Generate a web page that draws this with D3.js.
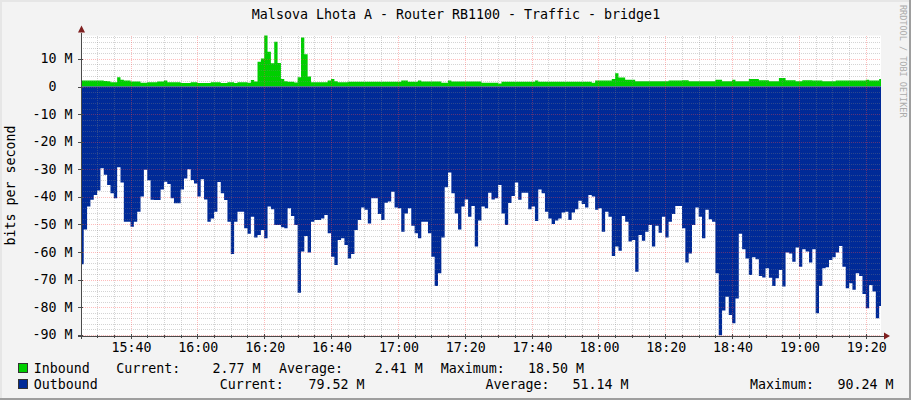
<!DOCTYPE html>
<html>
<head>
<meta charset="utf-8">
<script src="https://cdn.jsdelivr.net/npm/d3@7"></script>
<style>
  body { margin: 0; background: #fff; }
  svg { display: block; font-family: "DejaVu Sans Mono", monospace; }
</style>
</head>
<body>
<svg id="chart" width="911" height="400"></svg>
<script>
// data, 1 minute steps, values in Mbit/s
const title = "Malsova Lhota A - Router RB1100 - Traffic - bridge1";
const seriesStart = new Date(2020, 0, 1, 15, 25, 0);
const stepSeconds = 60;
const viewStart = new Date(2020, 0, 1, 15, 25, 11);
const viewEnd = new Date(2020, 0, 1, 19, 24, 33);

const inbound = [
  2.2, 2.2, 2.2, 2.2, 2.2, 2.2, 2.2, 2.0, 1.9, 1.6,
  1.6, 3.4, 2.5, 2.2, 2.2, 1.8, 1.8, 1.8, 1.4, 1.4,
  1.6, 1.6, 1.6, 1.8, 1.8, 2.2, 1.6, 1.6, 1.6, 1.6,
  1.3, 1.3, 1.3, 1.6, 1.6, 1.3, 1.3, 1.3, 1.3, 1.6,
  1.6, 1.6, 1.3, 1.3, 1.6, 1.6, 1.3, 1.6, 1.6, 1.6,
  1.4, 2.4, 1.8, 9.0, 10.2, 18.5, 12.6, 8.4, 16.2, 8.5,
  2.7, 1.9, 1.7, 1.7, 1.5, 3.4, 17.8, 11.7, 3.6, 1.6,
  1.6, 1.6, 1.6, 1.6, 2.2, 2.7, 1.9, 1.6, 1.6, 1.6,
  1.7, 1.7, 1.7, 1.7, 1.7, 1.7, 1.7, 1.7, 1.7, 1.7,
  1.7, 1.7, 1.7, 1.7, 1.7, 1.7, 2.2, 2.2, 1.7, 1.7,
  1.7, 2.2, 1.8, 1.8, 1.8, 1.8, 1.8, 1.8, 1.4, 1.4,
  2.2, 1.8, 1.8, 1.8, 1.8, 1.8, 1.8, 1.8, 1.8, 1.8,
  1.4, 1.4, 1.4, 1.4, 1.4, 1.1, 1.7, 1.7, 1.7, 1.7,
  1.7, 1.7, 1.7, 1.7, 1.7, 1.7, 2.2, 1.7, 1.7, 1.7,
  1.7, 1.7, 1.7, 1.7, 1.7, 1.7, 1.7, 1.7, 1.7, 1.7,
  1.7, 1.7, 1.7, 1.4, 2.2, 2.2, 2.2, 2.2, 2.2, 2.7,
  4.8, 3.3, 3.3, 2.5, 2.5, 2.5, 1.9, 1.9, 1.9, 1.9,
  1.9, 1.9, 1.9, 1.9, 1.9, 1.9, 2.2, 2.2, 2.2, 2.2,
  2.3, 2.3, 1.9, 1.9, 1.9, 1.9, 1.9, 1.9, 1.9, 1.9,
  2.5, 2.5, 1.9, 1.9, 1.9, 2.5, 1.9, 1.9, 1.9, 1.9,
  2.7, 2.7, 2.7, 2.3, 2.3, 2.3, 1.9, 1.9, 1.9, 3.1,
  3.1, 2.3, 2.3, 2.3, 1.9, 1.9, 2.3, 2.3, 2.3, 2.2,
  2.2, 2.2, 1.9, 1.9, 1.9, 1.9, 2.2, 2.2, 2.2, 2.2,
  2.2, 2.2, 2.2, 2.2, 2.2, 2.5, 2.2, 2.2, 2.2, 2.77
];

const outbound = [
  64.4, 51.8, 43.5, 41, 39.3, 37.7, 29.6, 32, 35.7, 38.7,
  40.5, 29.3, 34.8, 49, 49, 50.8, 49, 45.4, 39.9, 30.2,
  34, 41, 41.1, 41.1, 37.3, 34.5, 35.3, 40.5, 42.3, 42.3,
  37.3, 33.3, 30, 33.9, 35.1, 39.9, 33.6, 40.9, 49, 47.8,
  45.4, 34.6, 38.7, 41.1, 49, 60.7, 49, 45.4, 45.4, 51.4,
  53.4, 47.2, 54.7, 53.8, 52, 55, 43.5, 44.5, 50.2, 50.2,
  51, 51.4, 44.1, 46.9, 50.2, 74.7, 59.8, 54.2, 60.2, 49,
  48.4, 48.4, 47.8, 46.6, 53.2, 61.7, 64.7, 55.6, 55, 57.4,
  62.3, 60.7, 52, 48.4, 43.8, 44.7, 49.6, 40.5, 40.5, 46.2,
  48.4, 42.1, 41.7, 38.1, 43.8, 44.1, 52.6, 46, 44.1, 50.5,
  53.2, 55, 49, 49, 53.2, 61.7, 72.3, 67.7, 54.7, 36.5,
  31.2, 38.7, 46, 51.8, 43.5, 40.9, 47.2, 43.3, 58, 48.6,
  43.5, 44.1, 38.5, 40.9, 40.5, 35.7, 46, 50.2, 42.2, 39.7,
  34.8, 41, 38.5, 38.5, 44.5, 43.5, 48.7, 37.3, 38.7, 45.4,
  47.8, 49.8, 48.6, 47.8, 45.7, 45.4, 48.4, 45.7, 44.5, 41.4,
  42.6, 43.8, 39.3, 39.9, 44.7, 44.1, 52.6, 45.4, 47.2, 61.4,
  58, 59.5, 46.9, 49, 56.2, 55.6, 67.1, 53.8, 55.9, 52.6,
  50.2, 58, 50.5, 53, 47.2, 54.7, 49, 46.2, 43.3, 43.3,
  51.4, 63.8, 60.5, 50.2, 43.8, 47.2, 55, 44.7, 48.1, 49,
  67.7, 90.24, 81.2, 76.2, 82.8, 85.8, 76.8, 53.4, 59, 62.3,
  68.3, 61.9, 62.6, 68.7, 69.2, 65.9, 69.3, 72.3, 69.5, 66.5,
  72.5, 60.2, 60.5, 63.5, 58.3, 65.3, 59, 59.8, 63.8, 59,
  82.2, 72.3, 65.9, 65.5, 62.9, 61.9, 60.2, 57.8, 65.3, 73.1,
  71.3, 73.7, 67.7, 68.7, 75.2, 80.4, 71.9, 74.3, 84, 79.52
];

const yMajorTicks = [10, 0, -10, -20, -30, -40, -50, -60, -70, -80, -90];
const yMin = -90.24, yMax = 18.5;

const legendNames = ["Inbound", "Outbound"];
const legendColors = ["#00CF00", "#002A97"];
const currentText = ["2.77 M", "79.52 M"];
const averageText = ["2.41 M", "51.14 M"];
const maximumText = ["18.50 M", "90.24 M"];

const W = 911, H = 400;
const plot = { left: 81, right: 881, top: 35.5, bottom: 335.5 };

const svg = d3.select("#chart");

// background + rrdtool style frame
svg.append("rect").attr("width", W).attr("height", H).attr("fill", "#F3F3F3");
svg.append("rect").attr("x", 0).attr("y", 0).attr("width", W).attr("height", 2).attr("fill", "#E6E6E6");
svg.append("rect").attr("x", 0).attr("y", 0).attr("width", 2).attr("height", H).attr("fill", "#E6E6E6");
svg.append("rect").attr("x", W - 2).attr("y", 0).attr("width", 2).attr("height", H).attr("fill", "#9E9E9E");
svg.append("rect").attr("x", 0).attr("y", H - 2).attr("width", W).attr("height", 2).attr("fill", "#9E9E9E");

const x = d3.scaleTime().domain([viewStart, viewEnd]).range([plot.left, plot.right]);
const y = d3.scaleLinear().domain([yMin, yMax]).range([plot.bottom, plot.top]);

svg.append("rect")
  .attr("x", plot.left).attr("y", plot.top)
  .attr("width", plot.right - plot.left).attr("height", plot.bottom - plot.top)
  .attr("fill", "#FFFFFF");

svg.append("defs").append("clipPath").attr("id", "clip")
  .append("rect")
  .attr("x", plot.left).attr("y", plot.top - 1)
  .attr("width", plot.right - plot.left).attr("height", plot.bottom - plot.top + 1);

function toPoints(values, sign) {
  const pts = values.map((v, i) => ({ t: new Date(+seriesStart + i * stepSeconds * 1000), v: sign * v }));
  pts.push({ t: new Date(+seriesStart + values.length * stepSeconds * 1000), v: sign * values[values.length - 1] });
  return pts;
}

const area = d3.area()
  .curve(d3.curveStepAfter)
  .x(d => x(d.t))
  .y0(y(0))
  .y1(d => y(d.v));

const g = svg.append("g").attr("clip-path", "url(#clip)");
g.append("path").datum(toPoints(inbound, 1)).attr("d", area).attr("fill", legendColors[0]);
g.append("path").datum(toPoints(outbound, -1)).attr("d", area).attr("fill", legendColors[1]);

// grid on top of the data, like rrdtool
const grid = svg.append("g").attr("shape-rendering", "crispEdges");
const minorY = d3.range(-90, 19, 2).filter(v => v % 10 !== 0);
const minorX = x.ticks(d3.timeMinute.every(5)).filter(t => t.getMinutes() % 20 !== 0);
const majorX = x.ticks(d3.timeMinute.every(20));
const minorColor = "rgba(130,130,130,0.34)", majorColor = "rgba(255,70,70,0.36)";

grid.selectAll(".minor-y").data(minorY).join("line")
  .attr("x1", plot.left).attr("x2", plot.right)
  .attr("y1", d => Math.round(y(d)) + 0.5).attr("y2", d => Math.round(y(d)) + 0.5)
  .attr("stroke", minorColor).attr("stroke-dasharray", "1,1");
grid.selectAll(".minor-x").data(minorX).join("line")
  .attr("x1", d => Math.round(x(d)) + 0.5).attr("x2", d => Math.round(x(d)) + 0.5)
  .attr("y1", plot.top).attr("y2", plot.bottom)
  .attr("stroke", minorColor).attr("stroke-dasharray", "1,1");
grid.selectAll(".major-y").data(yMajorTicks).join("line")
  .attr("x1", plot.left).attr("x2", plot.right)
  .attr("y1", d => Math.round(y(d)) + 0.5).attr("y2", d => Math.round(y(d)) + 0.5)
  .attr("stroke", majorColor).attr("stroke-dasharray", "1,1");
grid.selectAll(".major-x").data(majorX).join("line")
  .attr("x1", d => Math.round(x(d)) + 0.5).attr("x2", d => Math.round(x(d)) + 0.5)
  .attr("y1", plot.top).attr("y2", plot.bottom)
  .attr("stroke", majorColor).attr("stroke-dasharray", "1,1");

// axes
const axisColor = "#4A4A4A", arrowColor = "#7F1F1F";
const ax = svg.append("g").attr("shape-rendering", "crispEdges");
ax.append("line").attr("x1", plot.left - 3).attr("x2", plot.right + 3)
  .attr("y1", plot.bottom + 0.5).attr("y2", plot.bottom + 0.5).attr("stroke", axisColor);
ax.append("line").attr("x1", plot.left + 0.5).attr("x2", plot.left + 0.5)
  .attr("y1", plot.bottom + 3).attr("y2", plot.top - 3).attr("stroke", axisColor);
ax.selectAll(".ty").data(yMajorTicks).join("line")
  .attr("x1", plot.left - 3).attr("x2", plot.left + 2)
  .attr("y1", d => Math.round(y(d)) + 0.5).attr("y2", d => Math.round(y(d)) + 0.5)
  .attr("stroke", axisColor);
ax.selectAll(".tx").data(majorX).join("line")
  .attr("x1", d => Math.round(x(d)) + 0.5).attr("x2", d => Math.round(x(d)) + 0.5)
  .attr("y1", plot.bottom - 2).attr("y2", plot.bottom + 3)
  .attr("stroke", axisColor);
ax.selectAll(".tmx").data(minorX).join("line")
  .attr("x1", d => Math.round(x(d)) + 0.5).attr("x2", d => Math.round(x(d)) + 0.5)
  .attr("y1", plot.bottom - 1).attr("y2", plot.bottom + 2)
  .attr("stroke", axisColor);

svg.append("path")
  .attr("d", `M${plot.left - 3},${plot.top - 3} L${plot.left + 4},${plot.top - 3} L${plot.left + 0.5},${plot.top - 10} Z`)
  .attr("fill", arrowColor);
svg.append("path")
  .attr("d", `M${plot.right + 3},${plot.bottom - 3} L${plot.right + 3},${plot.bottom + 4} L${plot.right + 9},${plot.bottom + 0.5} Z`)
  .attr("fill", arrowColor);

// labels
const fontSize = "13.3px";
svg.append("text").attr("x", 456).attr("y", 19).attr("text-anchor", "middle")
  .attr("font-size", fontSize).attr("fill", "#000").text(title);

const yl = svg.append("g").attr("font-size", fontSize).attr("fill", "#000");
yl.selectAll(".num").data(yMajorTicks).join("text")
  .attr("x", 56.5).attr("y", d => y(d) + 4.5).attr("text-anchor", "end")
  .text(d => d);
yl.selectAll(".unit").data(yMajorTicks.filter(d => d !== 0)).join("text")
  .attr("x", 72.5).attr("y", d => y(d) + 4.5).attr("text-anchor", "end")
  .text("M");

svg.append("g").attr("font-size", fontSize).attr("fill", "#000")
  .selectAll("text").data(majorX).join("text")
  .attr("x", d => x(d) + 1).attr("y", 352).attr("text-anchor", "middle")
  .text(d => d3.timeFormat("%H:%M")(d));

svg.append("text")
  .attr("transform", `translate(15,${(plot.top + plot.bottom) / 2}) rotate(-90)`)
  .attr("text-anchor", "middle").attr("font-size", fontSize).attr("fill", "#000")
  .text("bits per second");

svg.append("text")
  .attr("transform", "translate(900,5) rotate(90)")
  .attr("font-size", "8.5px").attr("fill", "#ABABAB")
  .text("RRDTOOL / TOBI OETIKER");

// legend
const legendRows = [
  { y: 373, cur: 116.3, curV: 260.5, avg: 279, avgV: 422.7, max: 440.7, maxV: 584 },
  { y: 389, cur: 219.8, curV: 364.5, avg: 485.5, avgV: 628.5, max: 750, maxV: 893.6 }
];
legendRows.forEach((r, i) => {
  const row = svg.append("g").attr("font-size", fontSize).attr("fill", "#000");
  row.append("rect").attr("x", 18.5).attr("y", r.y - 9.5).attr("width", 9).attr("height", 9)
    .attr("fill", legendColors[i]).attr("stroke", "#333").attr("shape-rendering", "crispEdges");
  row.append("text").attr("x", 33.7).attr("y", r.y).text(legendNames[i]);
  row.append("text").attr("x", r.cur).attr("y", r.y).text("Current:");
  row.append("text").attr("x", r.curV).attr("y", r.y).attr("text-anchor", "end").text(currentText[i]);
  row.append("text").attr("x", r.avg).attr("y", r.y).text("Average:");
  row.append("text").attr("x", r.avgV).attr("y", r.y).attr("text-anchor", "end").text(averageText[i]);
  row.append("text").attr("x", r.max).attr("y", r.y).text("Maximum:");
  row.append("text").attr("x", r.maxV).attr("y", r.y).attr("text-anchor", "end").text(maximumText[i]);
});
</script>
</body>
</html>
